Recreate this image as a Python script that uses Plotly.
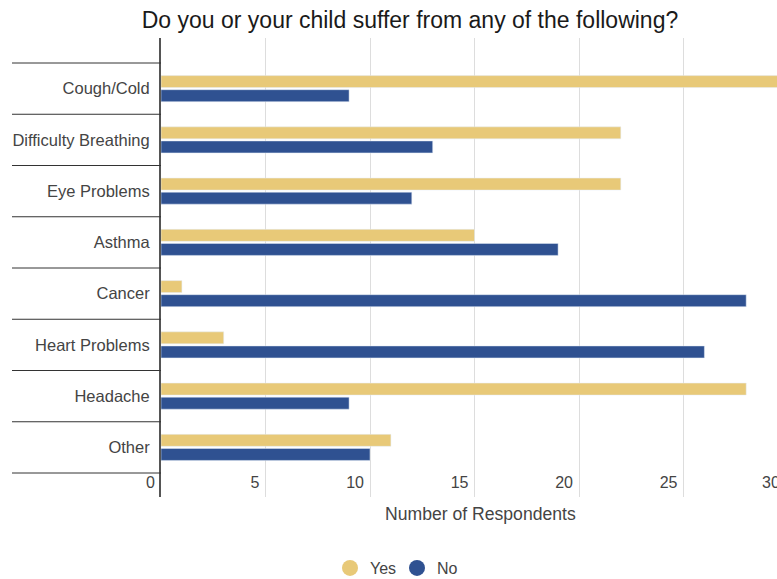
import plotly.graph_objects as go

categories = ["Cough/Cold", "Difficulty Breathing", "Eye Problems", "Asthma",
              "Cancer", "Heart Problems", "Headache", "Other"]
yes_values = [30, 22, 22, 15, 1, 3, 28, 11]
no_values = [9, 13, 12, 19, 28, 26, 9, 10]
x_ticks = [0, 5, 10, 15, 20, 25, 30]

YES_COLOR = "#E8C978"
NO_COLOR = "#2F5191"
FONT = "Liberation Sans, Arial, sans-serif"
TXT = "#444444"

# plot area in page pixels: x 161..777, y 38..497
PX0, PY0, PW, PH = 161, 38, 616, 459
W, H = 777, 579
PX_PER_UNIT = 20.9
X_MAX = PW / PX_PER_UNIT


def px(page_x):
    return (page_x - PX0) / PW


def py(page_y):
    return (PY0 + PH - page_y) / PH


fig = go.Figure()
fig.add_trace(go.Bar(y=categories, x=yes_values, orientation="h", name="Yes",
                     marker=dict(color=YES_COLOR), showlegend=False))
fig.add_trace(go.Bar(y=categories, x=no_values, orientation="h", name="No",
                     marker=dict(color=NO_COLOR), showlegend=False))
fig.add_trace(go.Scatter(x=[None], y=[None], mode="markers", name="Yes",
                         marker=dict(color=YES_COLOR, size=20, symbol="circle")))
fig.add_trace(go.Scatter(x=[None], y=[None], mode="markers", name="No",
                         marker=dict(color=NO_COLOR, size=20, symbol="circle")))

n = len(categories)
for i in range(n + 1):
    fig.add_shape(type="line", xref="paper", yref="y",
                  x0=px(12), x1=0, y0=i - 0.5, y1=i - 0.5,
                  line=dict(color="#333333", width=1))

# last tick label lies just beyond the visible range (clipped at the right edge, as in the reference)
fig.add_annotation(x=x_ticks[-1] / X_MAX, xref="paper", y=0, yref="paper",
                   yanchor="bottom", xanchor="right", text=str(x_ticks[-1]),
                   showarrow=False, xshift=-6, yshift=4,
                   font=dict(family=FONT, size=16, color=TXT))
fig.add_annotation(x=px(480), xref="paper", y=py(514), yref="paper",
                   xanchor="center", yanchor="middle", text="Number of Respondents",
                   showarrow=False, font=dict(family=FONT, size=17.6, color=TXT))

fig.update_layout(
    width=W, height=H,
    margin=dict(l=PX0, r=W - PX0 - PW, t=PY0, b=H - (PY0 + PH), autoexpand=False),
    paper_bgcolor="white", plot_bgcolor="white",
    barmode="group", bargap=0.45, bargroupgap=0.15,
    hovermode=False,
    title=dict(text="Do you or your child suffer from any of the following?",
               x=410 / W, xanchor="center",
               y=1 - 20 / H, yanchor="middle",
               font=dict(family=FONT, size=23, color="#1a1a1a")),
    font=dict(family=FONT, size=16, color=TXT),
    xaxis=dict(range=[0, X_MAX], tickvals=x_ticks[:-1],
               ticklabelposition="inside left", ticklabeloverflow="allow",
               ticklabelshift=-6, automargin=False,
               showgrid=True, gridcolor="#DDDDDD", gridwidth=1,
               zeroline=False, showline=False,
               tickfont=dict(family=FONT, size=16, color=TXT)),
    yaxis=dict(categoryorder="array", categoryarray=categories,
               range=[7.968, -0.988], showgrid=False, zeroline=False,
               showline=True, linecolor="#555555", linewidth=2,
               ticks="", ticklabelstandoff=6, automargin=False,
               tickfont=dict(family=FONT, size=16.5, color=TXT)),
    legend=dict(orientation="h", x=px(397), xanchor="center",
                y=py(568), yanchor="middle", entrywidth=22,
                font=dict(family=FONT, size=16, color=TXT)),
)

fig.write_html(
    "out.html",
    config={"displayModeBar": False, "staticPlot": True},
    post_script=(
        "document.documentElement.style.margin='0';"
        "document.documentElement.style.overflow='hidden';"
        "document.body.style.margin='0';"
        "document.body.style.overflow='hidden';"
        "document.body.style.height='579px';"
        "document.body.style.width='777px';"
    ),
)
